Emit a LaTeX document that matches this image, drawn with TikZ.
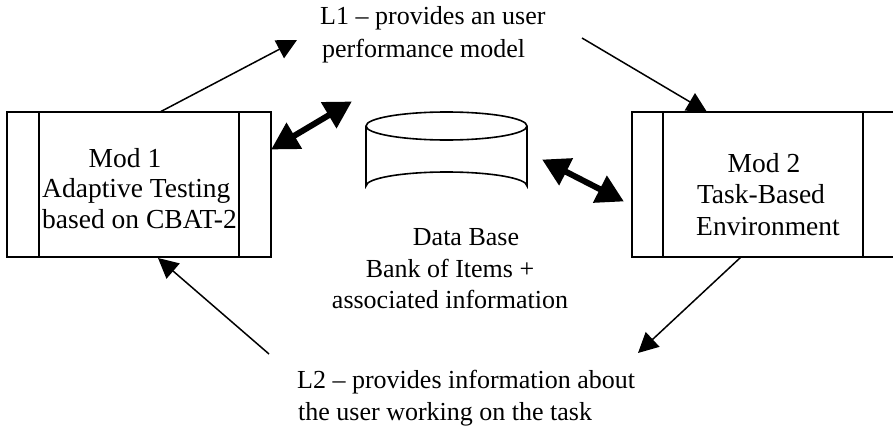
\documentclass[tikz,border=0pt]{standalone}
\usepackage{fontspec}
\setmainfont{Liberation Serif}
\usetikzlibrary{arrows.meta}
\begin{document}
\begin{tikzpicture}[x=1pt,y=-1pt,
  lbl/.style={inner sep=0pt,font=\fontsize{26}{30}\selectfont},
  modlbl/.style={inner sep=0pt,font=\fontsize{27.5}{31}\selectfont},
  modbox/.style={draw,line width=1.7pt,inner sep=0pt},
  thinarrow/.style={line width=1.5pt,-{Triangle[length=20pt,width=20pt]}},
  dblarrow/.style={line width=6pt,{Triangle[length=27pt,width=29pt]}-{Triangle[length=27pt,width=29pt]},shorten <=-1pt,shorten >=-1pt}]
\useasboundingbox (0,0) rectangle (893,428);
\clip (0,0) rectangle (893,428);
% left module
\node[modbox,minimum width=264pt,minimum height=145pt] (mod1) at (139,184.5) {};
\draw[line width=1.7pt] (39,112) -- (39,257) (239,112) -- (239,257);
\node[modlbl,anchor=base] (m1a) at (125,167) {Mod 1};
\node[modlbl,anchor=base west] (m1b) at (42,197) {Adaptive Testing};
\node[modlbl,anchor=base west] (m1c) at (42,228) {based on CBAT-2};
% right module
\node[modbox,minimum width=280pt,minimum height=145pt] (mod2) at (772,184.5) {};
\draw[line width=1.7pt] (663,112) -- (663,257) (863,112) -- (863,257);
\node[modlbl,anchor=base] (m2a) at (764,172) {Mod 2};
\node[modlbl,anchor=base] (m2b) at (761,203) {Task-Based};
\node[modlbl,anchor=base] (m2c) at (768,235) {Environment};
% database cylinder
\draw[line width=1.6pt,fill=white] (366,126) -- (366,186) arc[start angle=180,end angle=360,x radius=80.5,y radius=14] -- (527,126);
\draw[line width=1.6pt] (446.5,126) ellipse[x radius=80.5,y radius=14];
\node[lbl,anchor=base] (db1) at (466,245) {Data Base};
\node[lbl,anchor=base] (db2) at (450,277) {Bank of Items +};
\node[lbl,anchor=base] (db3) at (450,308) {associated information};
% L1 and L2 labels
\node[lbl,anchor=base west] (l1a) at (320,25) {L1 -- provides an user};
\node[lbl,anchor=base west] (l1b) at (322,57) {performance model};
\node[lbl,anchor=base west] (l2a) at (297,388) {L2 -- provides information about};
\node[lbl,anchor=base west] (l2b) at (298,420) {the user working on the task};
% connector end points
\coordinate (a1s) at (160,112);
\coordinate (a1e) at (297,40);
\coordinate (a2s) at (582,38);
\coordinate (a2e) at (707,112);
\coordinate (a5s) at (269,354);
\coordinate (a5e) at (158,258);
\coordinate (a6s) at (741,257);
\coordinate (a6e) at (638,353);
\coordinate (d1a) at (272,149);
\coordinate (d1b) at (351,102);
\coordinate (d2a) at (543,160);
\coordinate (d2b) at (623,201);
% connectors
\draw[thinarrow] (a1s) -- (a1e);
\draw[thinarrow] (a2s) -- (a2e);
\draw[thinarrow] (a5s) -- (a5e);
\draw[thinarrow] (a6s) -- (a6e);
\draw[dblarrow] (d1a) -- (d1b);
\draw[dblarrow] (d2a) -- (d2b);
\end{tikzpicture}
\end{document}
